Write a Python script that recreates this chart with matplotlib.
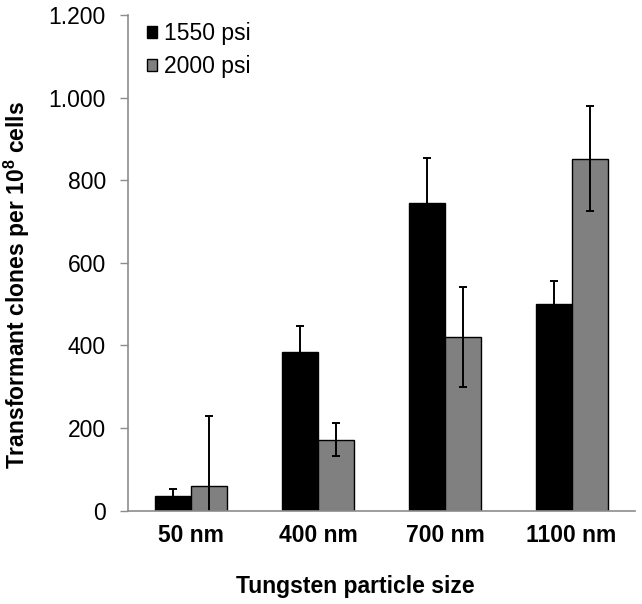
import numpy as np
import matplotlib
matplotlib.use('Agg')
from matplotlib import pyplot as plt
from matplotlib.ticker import FuncFormatter, MultipleLocator

# Data
sizes = ['50 nm', '400 nm', '700 nm', '1100 nm']
psi_1550 = [36, 384, 745, 500]
psi_1550_err = [17, 64, 109, 57]
psi_2000 = [60, 171, 421, 852]
psi_2000_err = [168, 40, 121, 127]

plt.rcParams['font.family'] = ['Liberation Sans', 'DejaVu Sans']
plt.rcParams['mathtext.fontset'] = 'custom'
plt.rcParams['mathtext.rm'] = 'Liberation Sans'
plt.rcParams['mathtext.bf'] = 'Liberation Sans:bold'

fs = 16.5
W, H = 642, 604
fig = plt.figure(figsize=(W / 100, H / 100), dpi=100)
# plot area: x 128..635 px, y 15..510.5 px
ax = fig.add_axes([128 / W, 1 - 510.5 / H, (635 - 128) / W, (510.5 - 15) / H])

x = np.arange(len(sizes))
w = 0.284
err_kw = dict(ecolor='black', elinewidth=1.4, capsize=3, capthick=1.4)

ax.bar(x - w / 2, psi_1550, w, color='black', edgecolor='black', linewidth=1,
       yerr=psi_1550_err, error_kw=err_kw, label='1550 psi', zorder=2)
ax.bar(x + w / 2, psi_2000, w, color='#808080', edgecolor='black', linewidth=1,
       yerr=psi_2000_err, error_kw=err_kw, label='2000 psi', zorder=2)

ax.set_xlim(-0.5, len(sizes) - 0.5)
ax.set_ylim(0, 1200)
ax.yaxis.set_major_locator(MultipleLocator(200))
ax.yaxis.set_major_formatter(FuncFormatter(lambda v, p: f"{int(v):,}".replace(',', '.')))

ax.set_xticks(x)
ax.set_xticklabels(sizes, fontweight='bold', fontsize=fs)
ax.tick_params(axis='x', length=0, pad=10)
ax.tick_params(axis='y', labelsize=fs, length=6, width=1, color='#8c8c8c', pad=10)

for s in ['top', 'right']:
    ax.spines[s].set_visible(False)
for s in ['left', 'bottom']:
    ax.spines[s].set_color('#8c8c8c')
    ax.spines[s].set_linewidth(1.2)

fig.text(355.5 / W, 1 - 587 / H, 'Tungsten particle size', fontsize=fs,
         fontweight='bold', ha='center', va='center')
fig.text(17 / W, 1 - 285 / H, r'Transformant clones per 10$^{\mathbf{8}}$ cells',
         fontsize=fs, fontweight='bold', rotation=90, ha='center', va='center')

ax.legend(loc='upper left', bbox_to_anchor=(147 / W, 1 - 22 / H),
          bbox_transform=fig.transFigure, frameon=False, fontsize=fs,
          borderpad=0, borderaxespad=0,
          handlelength=0.44, handleheight=0.44, handletextpad=0.3, labelspacing=0.45)

fig.savefig('out.png', dpi=100)
